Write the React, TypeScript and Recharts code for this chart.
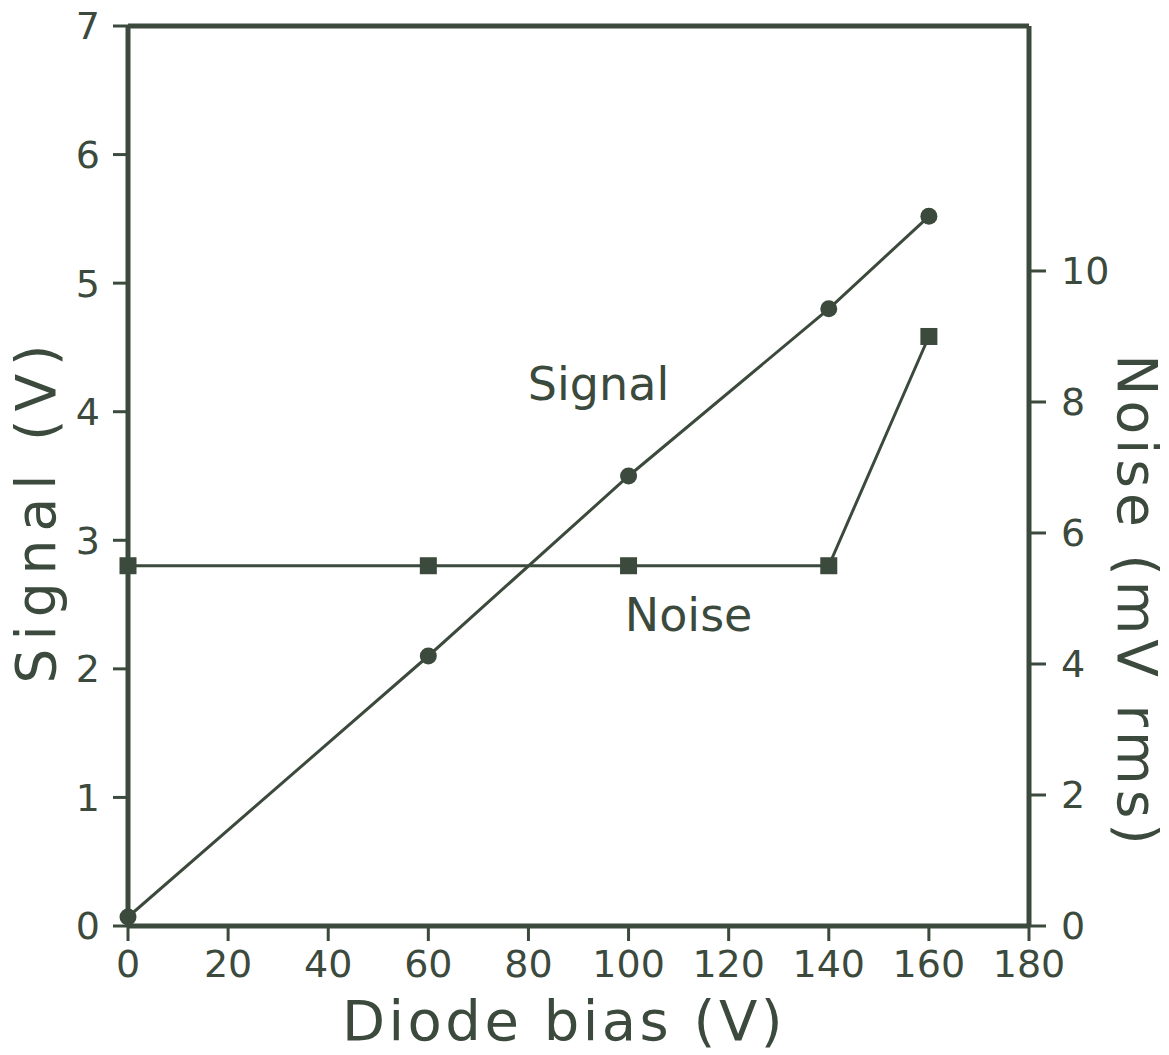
import React from "react";
import {
  ComposedChart,
  Line,
  XAxis,
  YAxis,
  ReferenceLine,
  ReferenceDot,
  Label,
} from "recharts";

// values
const biasV = [0, 60, 100, 140, 160];
const signalV = [0.07, 2.1, 3.5, 4.8, 5.52];
const noiseMV = [5.5, 5.5, 5.5, 5.5, 9.0];

const biasTicks = [0, 20, 40, 60, 80, 100, 120, 140, 160, 180];
const signalTicks = [0, 1, 2, 3, 4, 5, 6, 7];
const noiseTicks = [0, 2, 4, 6, 8, 10];

const INK = "#3b4a3c";
const FONT = "'DejaVu Sans', sans-serif";

const data = biasV.map((b, i) => ({
  bias: b,
  signal: signalV[i],
  noise: noiseMV[i],
}));

const tickStyle = { fill: INK, fontSize: 38, fontFamily: FONT };

const CircleDot = (p: any) => (
  <circle key={`c-${p.index}`} cx={p.cx} cy={p.cy} r={8.5} fill={INK} />
);

const SquareDot = (p: any) => (
  <rect
    key={`s-${p.index}`}
    x={p.cx - 8.5}
    y={p.cy - 8.5}
    width={17}
    height={17}
    fill={INK}
  />
);

const App = () => {
  return (
    <div style={{ position: "absolute", left: 0, top: 0, width: 1169, height: 1055, background: "#fff" }}>
      <ComposedChart
        width={1169}
        height={1055}
        data={data}
        margin={{ top: 26, left: 48, right: 60, bottom: 69 }}
      >
        <XAxis
          dataKey="bias"
          type="number"
          domain={[0, 180]}
          ticks={biasTicks}
          stroke={INK}
          strokeWidth={5}
          tickSize={15}
          tickMargin={9}
          tick={tickStyle}
          tickLine={{ stroke: INK, strokeWidth: 3 }}
          height={60}
          interval={0}
        >
          <Label
            content={() => (
              <text
                x={564}
                y={1040}
                textAnchor="middle"
                fill={INK}
                fontSize={56}
                fontFamily={FONT}
                letterSpacing={3.5}
              >
                Diode bias (V)
              </text>
            )}
          />
        </XAxis>
        <YAxis
          yAxisId="left"
          orientation="left"
          domain={[0, 7]}
          ticks={signalTicks}
          stroke={INK}
          strokeWidth={5}
          tickSize={15}
          tickMargin={13}
          tick={tickStyle}
          tickLine={{ stroke: INK, strokeWidth: 3 }}
          width={80}
          interval={0}
        >
          <Label
            content={() => (
              <text
                x={55}
                y={510}
                transform="rotate(-90 55 510)"
                textAnchor="middle"
                fill={INK}
                fontSize={55}
                fontFamily={FONT}
                letterSpacing={8}
              >
                Signal (V)
              </text>
            )}
          />
        </YAxis>
        <YAxis
          yAxisId="right"
          orientation="right"
          domain={[0, 13.74]}
          ticks={noiseTicks}
          stroke={INK}
          strokeWidth={5}
          tickSize={17}
          tickMargin={15}
          tick={tickStyle}
          tickLine={{ stroke: INK, strokeWidth: 3 }}
          width={80}
          interval={0}
        >
          <Label
            content={() => (
              <text
                x={1118}
                y={602}
                transform="rotate(90 1118 602)"
                textAnchor="middle"
                fill={INK}
                fontSize={55}
                fontFamily={FONT}
                letterSpacing={5}
              >
                Noise (mV rms)
              </text>
            )}
          />
        </YAxis>

        {/* top frame line */}
        <ReferenceLine yAxisId="left" y={7} stroke={INK} strokeWidth={5} />

        <Line
          yAxisId="left"
          dataKey="signal"
          stroke={INK}
          strokeWidth={3}
          dot={CircleDot}
          activeDot={false}
          isAnimationActive={false}
        />
        <Line
          yAxisId="right"
          dataKey="noise"
          stroke={INK}
          strokeWidth={3}
          dot={SquareDot}
          activeDot={false}
          isAnimationActive={false}
        />

        <ReferenceDot
          yAxisId="left"
          x={94}
          y={4.22}
          r={0}
          fill="none"
          stroke="none"
          label={{ value: "Signal", position: "center", fill: INK, fontSize: 46, fontFamily: FONT }}
        />
        <ReferenceDot
          yAxisId="left"
          x={112}
          y={2.42}
          r={0}
          fill="none"
          stroke="none"
          label={{ value: "Noise", position: "center", fill: INK, fontSize: 46, fontFamily: FONT }}
        />
      </ComposedChart>
    </div>
  );
};

export default App;
